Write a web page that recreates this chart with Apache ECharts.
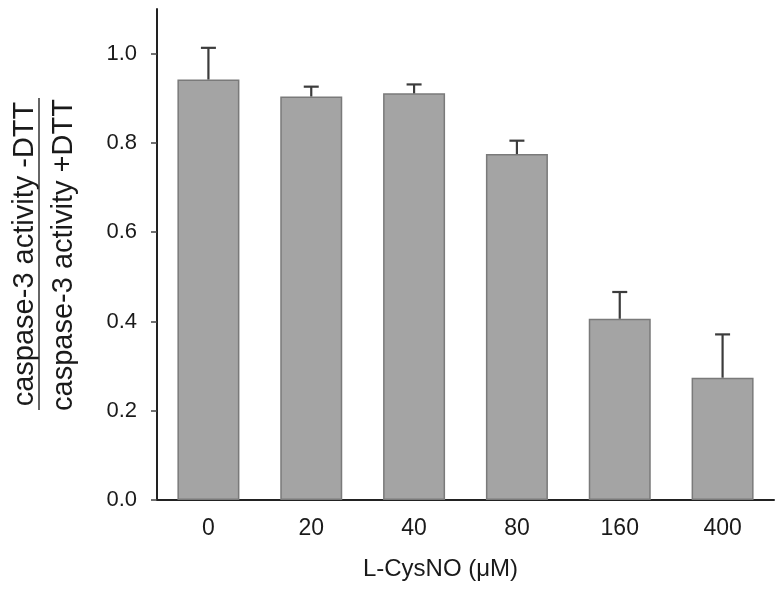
<!DOCTYPE html>
<html>
<head>
<meta charset="utf-8">
<script src="https://cdn.jsdelivr.net/npm/echarts@6/dist/echarts.min.js"></script>
<style>
  html, body { margin: 0; padding: 0; background: #fff; }
  #main { width: 783px; height: 592px; }
</style>
</head>
<body>
<div id="main"></div>
<script>
// values
const categories = ['0', '20', '40', '80', '160', '400'];
const means = [0.942, 0.904, 0.911, 0.775, 0.406, 0.274];
const errors = [0.071, 0.022, 0.020, 0.030, 0.060, 0.097];
const yTicks = [0, 0.2, 0.4, 0.6, 0.8, 1.0];

const FONT = "'Liberation Sans', Arial, sans-serif";

const chart = echarts.init(document.getElementById('main'));

const errData = means.map(function (m, i) { return [i, m, m + errors[i]]; });

const option = {
  animation: false,
  backgroundColor: '#fff',
  grid: { left: 157, right: 9, top: 9, bottom: 92 },
  xAxis: {
    type: 'category',
    data: categories,
    name: 'L-CysNO (\u03bcM)',
    nameLocation: 'middle',
    nameGap: 57,
    nameTextStyle: { fontFamily: FONT, fontSize: 24, color: '#1a1a1a', padding: [0, 50, 0, 0] },
    axisLine: { lineStyle: { color: '#222', width: 2 } },
    axisTick: { alignWithLabel: true, length: 4, lineStyle: { color: '#444', width: 2 } },
    axisLabel: { fontFamily: FONT, fontSize: 23, color: '#1a1a1a', margin: 17 }
  },
  yAxis: {
    type: 'value',
    min: 0,
    max: 1.1,
    interval: 0.2,
    splitLine: { show: false },
    axisLine: { show: true, lineStyle: { color: '#222', width: 2 } },
    axisTick: { show: true, length: 6, customValues: yTicks, lineStyle: { color: '#444', width: 1.5 } },
    axisLabel: {
      fontFamily: FONT, fontSize: 22, color: '#1a1a1a', margin: 20,
      customValues: yTicks,
      formatter: function (v) { return v.toFixed(1); }
    }
  },
  graphic: [
    {
      type: 'text', x: 25, y: 254, rotation: Math.PI / 2,
      style: { text: 'caspase-3 activity -DTT', font: '29px ' + FONT, fill: '#1a1a1a', align: 'center', verticalAlign: 'middle' }
    },
    {
      type: 'line',
      shape: { x1: 39, y1: 98, x2: 39, y2: 410 },
      style: { stroke: '#333', lineWidth: 1.5 }
    },
    {
      type: 'text', x: 64, y: 255, rotation: Math.PI / 2,
      style: { text: 'caspase-3 activity +DTT', font: '29px ' + FONT, fill: '#1a1a1a', align: 'center', verticalAlign: 'middle' }
    }
  ],
  series: [
    {
      type: 'bar',
      data: means,
      barWidth: 62,
      itemStyle: { color: '#a4a4a4', borderColor: '#7a7a7a', borderWidth: 1.5 },
      z: 2
    },
    {
      type: 'custom',
      data: errData,
      z: 3,
      renderItem: function (params, api) {
        const i = api.value(0);
        const base = api.coord([i, api.value(1)]);
        const top = api.coord([i, api.value(2)]);
        const hw = 7.5;
        const st = { stroke: '#3c3c3c', lineWidth: 2.2 };
        return {
          type: 'group',
          children: [
            { type: 'line', shape: { x1: base[0], y1: base[1], x2: top[0], y2: top[1] }, style: st },
            { type: 'line', shape: { x1: top[0] - hw, y1: top[1], x2: top[0] + hw, y2: top[1] }, style: st }
          ]
        };
      }
    }
  ]
};

chart.setOption(option);
</script>
</body>
</html>
